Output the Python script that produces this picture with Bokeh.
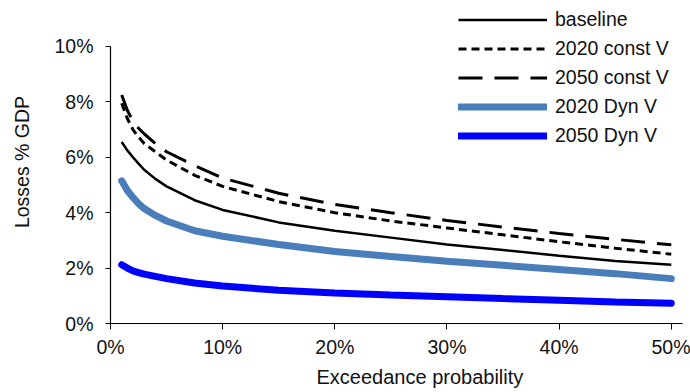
from bokeh.plotting import figure
from bokeh.models import (ColumnDataSource, Legend, LegendItem, NumeralTickFormatter,
                          FixedTicker, Range1d, Title)
from bokeh.embed import file_html
from bokeh.resources import INLINE

# exceedance probability (fraction)
prob = [0.01, 0.015, 0.02, 0.025, 0.03, 0.04, 0.05, 0.075, 0.10, 0.15, 0.20, 0.25, 0.30, 0.35, 0.40, 0.45, 0.50]
# losses, % GDP (fraction)
baseline   = [0.0655, 0.0625, 0.0600, 0.0577, 0.0555, 0.0522, 0.0495, 0.0445, 0.0410, 0.0365, 0.0335, 0.0310, 0.0285, 0.0265, 0.0245, 0.0226, 0.0212]
const_2020 = [0.0795, 0.0740, 0.0700, 0.0673, 0.0650, 0.0620, 0.0590, 0.0535, 0.0495, 0.0440, 0.0400, 0.0370, 0.0345, 0.0320, 0.0295, 0.0272, 0.0250]
const_2050 = [0.0825, 0.0770, 0.0730, 0.0705, 0.0685, 0.0650, 0.0620, 0.0570, 0.0525, 0.0470, 0.0430, 0.0400, 0.0372, 0.0348, 0.0325, 0.0304, 0.0284]
dyn_2020   = [0.0515, 0.0480, 0.0455, 0.0433, 0.0415, 0.0390, 0.0370, 0.0335, 0.0315, 0.0285, 0.0260, 0.0242, 0.0225, 0.0210, 0.0195, 0.0180, 0.0162]
dyn_2050   = [0.0212, 0.0200, 0.0190, 0.0184, 0.0178, 0.0170, 0.0162, 0.0146, 0.0135, 0.0120, 0.0110, 0.0103, 0.0097, 0.0090, 0.0084, 0.0078, 0.0073]

series_names = ["baseline", "2020 const V", "2050 const V", "2020 Dyn V", "2050 Dyn V"]
x_ticks = [0.0, 0.1, 0.2, 0.3, 0.4, 0.5]
y_ticks = [0.0, 0.02, 0.04, 0.06, 0.08, 0.10]
x_title = "Exceedance probability"
y_title = "Losses % GDP"

FONT = "Liberation Sans"
FS = "19.5px"
TXT = "#111111"

src = ColumnDataSource(dict(x=prob, b=baseline, c20=const_2020, c50=const_2050,
                            d20=dyn_2020, d50=dyn_2050))

p = figure(width=690, height=392, output_backend="svg", toolbar_location=None,
           x_range=Range1d(0, 0.51), y_range=Range1d(0, 0.1166),
           min_border_left=110, min_border_right=8, min_border_top=0, min_border_bottom=69)
p.outline_line_color = None
p.grid.visible = False
p.background_fill_color = "white"
p.border_fill_color = "white"

r1 = p.line("x", "b", source=src, line_color="black", line_width=2.5)
r2 = p.line("x", "c20", source=src, line_color="black", line_width=3, line_dash="8 5")
r3 = p.line("x", "c50", source=src, line_color="black", line_width=3, line_dash="24 12")
r4 = p.line("x", "d20", source=src, line_color="#4a7ebb", line_width=7, line_cap="round")
r5 = p.line("x", "d50", source=src, line_color="#0000ff", line_width=7, line_cap="round")

for ax in (p.xaxis[0], p.yaxis[0]):
    ax.formatter = NumeralTickFormatter(format="0%")
    ax.major_label_text_font = FONT
    ax.major_label_text_font_size = FS
    ax.major_label_text_color = TXT
    ax.axis_line_color = "black"
    ax.axis_line_width = 1.2
    ax.major_tick_line_color = "black"
    ax.major_tick_in = 0
    ax.major_tick_out = 6
    ax.minor_tick_line_color = None
    ax.axis_label_text_font = FONT
    ax.axis_label_text_font_size = FS
    ax.axis_label_text_font_style = "normal"
    ax.axis_label_text_color = TXT

p.xaxis[0].ticker = FixedTicker(ticks=x_ticks)
p.yaxis[0].ticker = FixedTicker(ticks=y_ticks)
p.yaxis[0].bounds = (0, 0.10)
p.xaxis[0].major_label_standoff = 6
p.yaxis[0].axis_label = y_title
p.yaxis[0].major_tick_out = 5
p.yaxis[0].major_label_standoff = 12
p.yaxis[0].axis_label_standoff = 18

xt = Title(text=x_title, align="left", offset=206, standoff=6,
           text_font=FONT, text_font_size="20px", text_font_style="normal",
           text_color=TXT)
p.add_layout(xt, "below")

legend = Legend(items=[LegendItem(label=n, renderers=[r]) for n, r in
                       zip(series_names, [r1, r2, r3, r4, r5])],
                location=(348, 173.5), padding=0, spacing=0, margin=0,
                glyph_width=89, glyph_height=29, label_height=29, label_standoff=8,
                label_text_font=FONT, label_text_font_size=FS, label_text_color=TXT,
                border_line_color=None, background_fill_alpha=0)
p.add_layout(legend, "center")

open("out.html", "w").write(file_html(p, INLINE))
